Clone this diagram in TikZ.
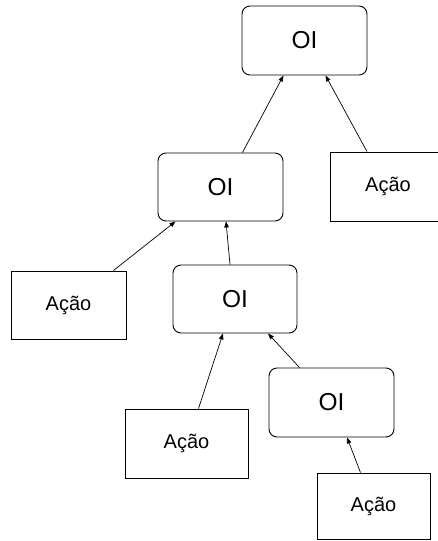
\documentclass[tikz,border=0pt]{standalone}
\usepackage{fontspec}
\setmainfont{Liberation Sans}
\usetikzlibrary{arrows.meta}
\begin{document}
\begin{tikzpicture}[x=1pt,y=-1pt,
  oibox/.style={draw,line width=0.9pt,rounded corners=8pt,inner sep=0pt,
    font=\fontsize{24.5}{26}\selectfont},
  acaobox/.style={draw,line width=0.9pt,inner sep=0pt,
    font=\fontsize{20}{22}\selectfont},
  link/.style={line width=0.7pt,-{Triangle[length=6pt,width=4.5pt]}}]
  \useasboundingbox (0,0) rectangle (437,541);
  % operator nodes
  \node[oibox,minimum width=125pt,minimum height=69pt] (oi1) at (304.5,40.5) {OI};
  \node[oibox,minimum width=125pt,minimum height=68pt] (oi2) at (220.5,187) {OI};
  \node[oibox,minimum width=124pt,minimum height=68pt] (oi3) at (235,299) {OI};
  \node[oibox,minimum width=125pt,minimum height=69pt] (oi4) at (331.5,402.5) {OI};
  % action nodes
  \node[acaobox,minimum width=116pt,minimum height=69pt] (a1) at (388,186.5) {Ação};
  \node[acaobox,minimum width=115pt,minimum height=68pt] (a2) at (68.5,305) {Ação};
  \node[acaobox,minimum width=123pt,minimum height=69pt] (a3) at (186.5,443.5) {Ação};
  \node[acaobox,minimum width=113pt,minimum height=66pt] (a4) at (373.5,506) {Ação};
  % connectors
  \draw[link] ([xshift=-41pt]oi2.north east) coordinate (s1) -- ([xshift=-21pt]oi1.south);
  \draw[link] ([xshift=-21pt]a1.north) coordinate (s0) -- ([xshift=21pt]oi1.south);
  \draw[link] ([xshift=-13pt]a2.north east) coordinate (s2) -- ([xshift=-45pt]oi2.south);
  \draw[link] ([xshift=-5pt]oi3.north) coordinate (s3) -- ([xshift=5.5pt]oi2.south);
  \draw[link] ([xshift=12pt]a3.north) coordinate (s4) -- ([xshift=-12pt]oi3.south);
  \draw[link] ([xshift=-32pt]oi4.north) coordinate (s5) -- ([xshift=33pt]oi3.south);
  \draw[link] ([xshift=-13pt]a4.north) coordinate (s6) -- ([xshift=15.5pt]oi4.south);
\end{tikzpicture}
\end{document}
